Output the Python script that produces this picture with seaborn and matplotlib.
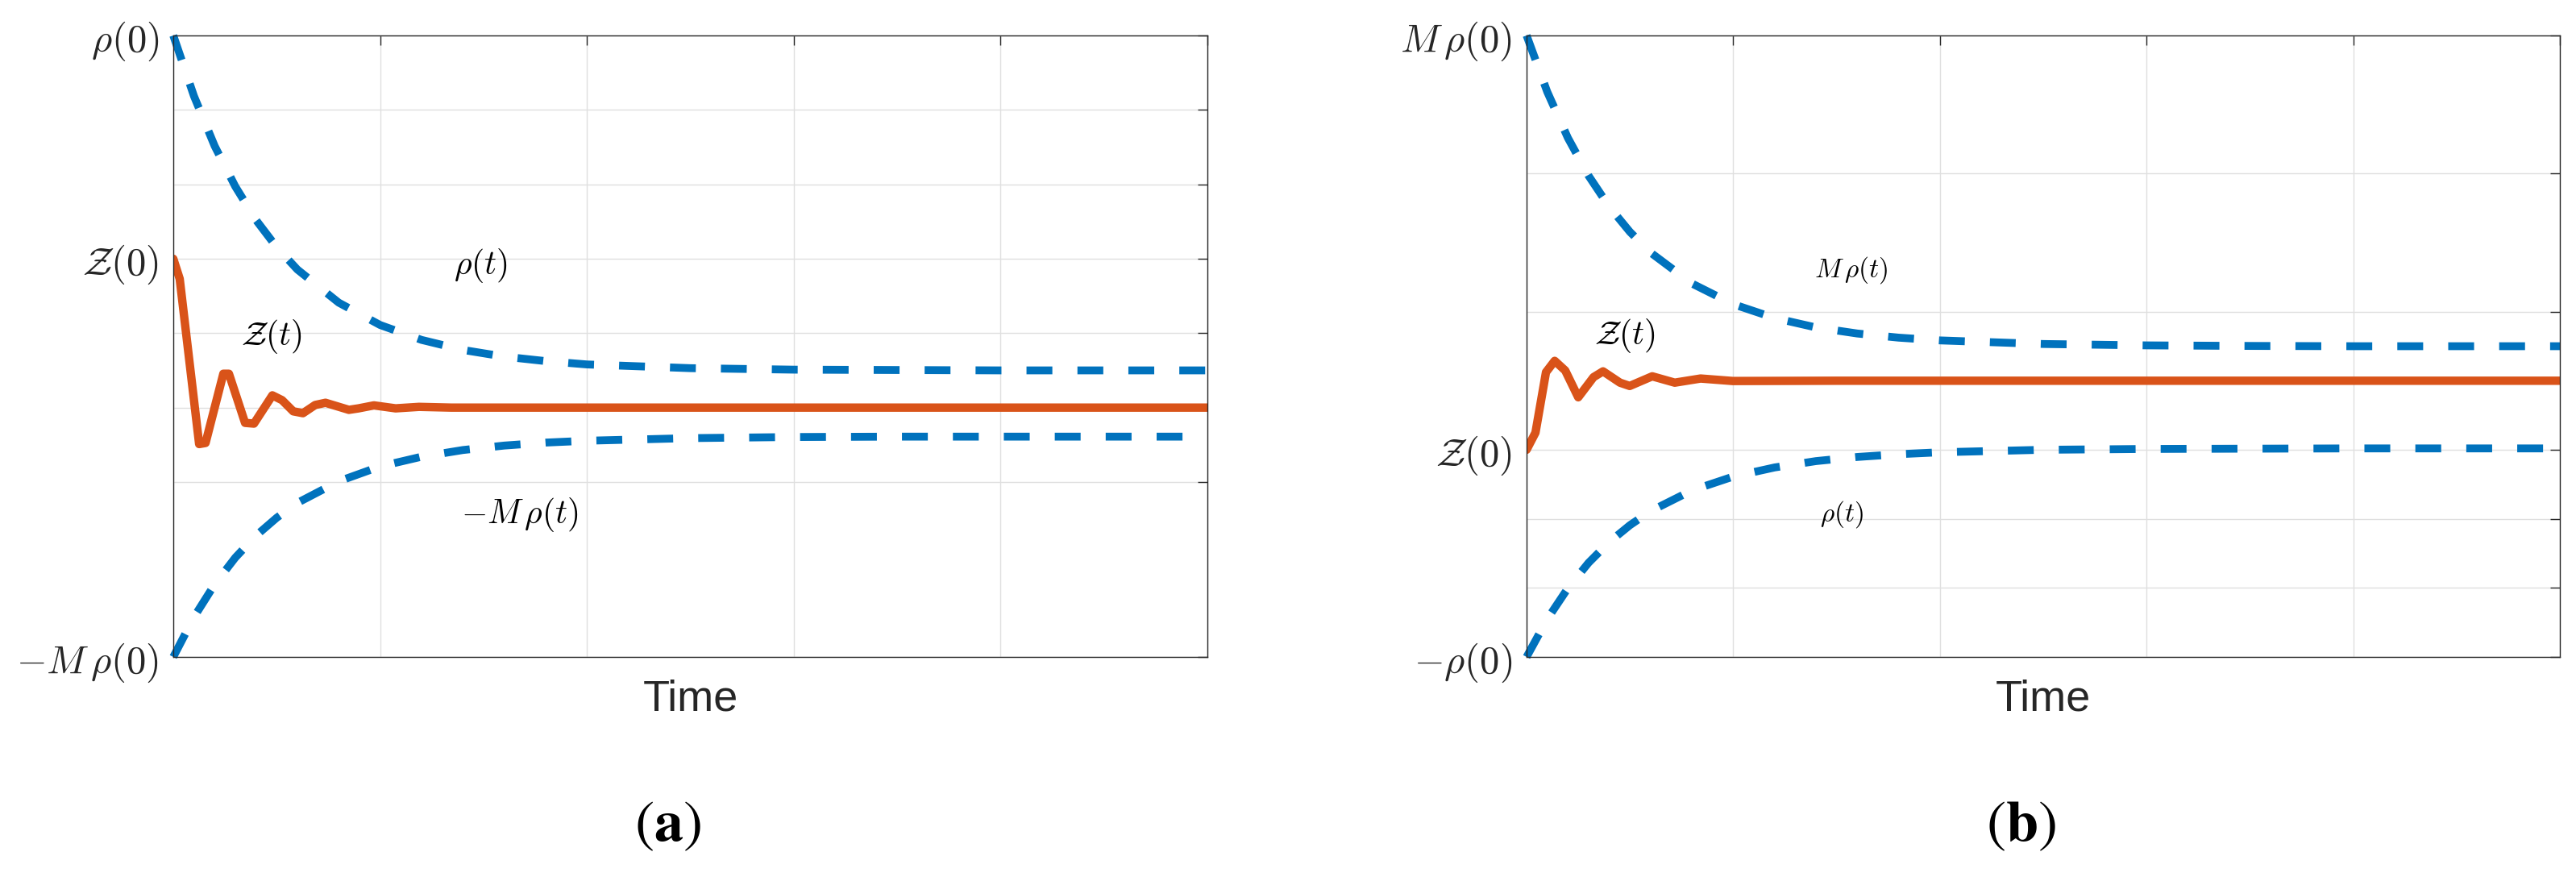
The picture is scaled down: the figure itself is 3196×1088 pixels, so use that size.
import numpy as np
import pandas as pd
import matplotlib
matplotlib.use("Agg")
import matplotlib.pyplot as plt
import seaborn as sns

# ---------------- data ----------------
# common time grid for the bound curves
t_bound = [0.0, 0.1, 0.2, 0.3, 0.4, 0.5, 0.6, 0.8, 1.0, 1.2, 1.4, 1.6, 1.8,
           2.0, 2.5, 3.0, 3.5, 4.0, 4.5, 5.0]

# panel (a)
a_upper = [1.000, 0.837, 0.703, 0.594, 0.504, 0.431, 0.371, 0.282, 0.222, 0.182,
           0.155, 0.137, 0.125, 0.116, 0.106, 0.102, 0.101, 0.100, 0.100, 0.100]
a_lower = [-0.670, -0.563, -0.475, -0.403, -0.344, -0.296, -0.256, -0.198, -0.158,
           -0.132, -0.114, -0.102, -0.094, -0.089, -0.082, -0.079, -0.078, -0.078,
           -0.078, -0.078]
a_z_t = [0.0, 0.031, 0.125, 0.156, 0.242, 0.269, 0.347, 0.390, 0.479, 0.526, 0.580,
         0.627, 0.686, 0.736, 0.849, 0.896, 0.970, 1.075, 1.188, 1.344, 5.0]
a_z = [0.400, 0.346, -0.098, -0.095, 0.091, 0.091, -0.041, -0.043, 0.033, 0.020,
       -0.010, -0.015, 0.007, 0.013, -0.006, -0.002, 0.006, -0.002, 0.002, 0.0, 0.0]

# panel (b)
b_upper = [1.250, 1.046, 0.879, 0.742, 0.630, 0.539, 0.464, 0.352, 0.277, 0.227,
           0.193, 0.171, 0.156, 0.146, 0.133, 0.128, 0.126, 0.125, 0.125, 0.125]
b_lower = [-1.000, -0.863, -0.751, -0.659, -0.584, -0.523, -0.472, -0.397, -0.347,
           -0.314, -0.291, -0.276, -0.266, -0.259, -0.250, -0.247, -0.246, -0.245,
           -0.245, -0.245]
b_z_t = [0.0, 0.043, 0.094, 0.136, 0.187, 0.250, 0.324, 0.370, 0.452, 0.499, 0.608,
         0.717, 0.842, 0.998, 1.5, 5.0]
b_z = [-0.250, -0.188, 0.031, 0.072, 0.037, -0.060, 0.013, 0.034, -0.007, -0.019,
       0.016, -0.007, 0.008, -0.001, 0.0, 0.0]

# axis tick values and labels
x_ticks = [0, 1, 2, 3, 4, 5]
a_yticks = [-0.67, -0.2, 0.0, 0.2, 0.4, 0.6, 0.8, 1.0]
a_ylabels = [r"$-M\,\rho(0)$", "", "", "", r"$\mathcal{Z}(0)$", "", "", r"$\rho(0)$"]
b_yticks = [-1.0, -0.75, -0.5, -0.25, 0.25, 0.75, 1.25]
b_ylabels = [r"$-\rho(0)$", "", "", r"$\mathcal{Z}(0)$", "", "", r"$M\,\rho(0)$"]

# ---------------- style ----------------
sns.set_theme(style="white")
plt.rcParams["mathtext.fontset"] = "cm"
plt.rcParams["font.family"] = ["Liberation Sans", "DejaVu Sans"]

BLUE = "#0072BD"
ORANGE = "#D95319"
DARK = "#262626"

W, H = 3196, 1088
fig = plt.figure(figsize=(W / 100, H / 100), dpi=100)
fig.patch.set_facecolor("white")

axA = fig.add_axes([215 / W, 273 / H, 1283 / W, 771 / H])
axB = fig.add_axes([1894 / W, 273 / H, 1282 / W, 771 / H])


def draw(ax, upper, lower, zt, z):
    bounds = pd.DataFrame({"t": t_bound, "upper": upper, "lower": lower})
    zdf = pd.DataFrame({"t": zt, "z": z})
    dash = dict(color=BLUE, linewidth=7.0, linestyle=(0, (3.3, 3.2)),
                dash_capstyle="butt", estimator=None, sort=False, clip_on=False)
    sns.lineplot(data=bounds, x="t", y="upper", ax=ax, **dash)
    sns.lineplot(data=bounds, x="t", y="lower", ax=ax, **dash)
    sns.lineplot(data=zdf, x="t", y="z", ax=ax, color=ORANGE, linewidth=7.5,
                 estimator=None, sort=False, clip_on=True)


def style(ax, ylim, yticks, ylabels):
    ax.set_xlim(0, 5)
    ax.set_ylim(*ylim)
    ax.set_xticks(x_ticks)
    ax.set_xticklabels([""] * len(x_ticks))
    ax.set_yticks(yticks)
    ax.set_yticklabels(ylabels)
    ax.grid(True, color="#dfdfdf", linewidth=1.0)
    ax.set_axisbelow(True)
    ax.tick_params(direction="in", length=8.6, width=1.0, top=True, right=True,
                   colors=DARK, labelsize=35, pad=13)
    for sp in ax.spines.values():
        sp.set_visible(True)
        sp.set_color(DARK)
        sp.set_linewidth(1.0)
    ax.set_ylabel("")
    ax.set_xlabel("Time", fontsize=39, color=DARK)
    ax.xaxis.set_label_coords(0.5, -(868 - 815) / 771)
    ax.xaxis.label.set_va("center")


draw(axA, a_upper, a_lower, a_z_t, a_z)
style(axA, (-0.67, 1.0), a_yticks, a_ylabels)
draw(axB, b_upper, b_lower, b_z_t, b_z)
style(axB, (-1.0, 1.25), b_yticks, b_ylabels)

# curve annotations
axA.text(1.488, 0.381, r"$\rho(t)$", fontsize=30, ha="center", va="center", color="black")
axA.text(0.475, 0.192, r"$\mathcal{Z}(t)$", fontsize=30, ha="center", va="center", color="black")
axA.text(1.675, -0.287, r"$-M\,\rho(t)$", fontsize=30, ha="center", va="center", color="black")

axB.text(1.571, 0.402, r"$M\,\rho(t)$", fontsize=24, ha="center", va="center", color="black")
axB.text(0.476, 0.162, r"$\mathcal{Z}(t)$", fontsize=30, ha="center", va="center", color="black")
axB.text(1.524, -0.483, r"$\rho(t)$", fontsize=24, ha="center", va="center", color="black")

# panel tags
fig.text(828 / W, 1 - 1025 / H, r"$(\mathbf{a})$", math_fontfamily="stix",
         fontsize=52, ha="center", va="center", color="black")
fig.text(2507 / W, 1 - 1025 / H, r"$(\mathbf{b})$", math_fontfamily="stix",
         fontsize=52, ha="center", va="center", color="black")

fig.savefig("out.png", dpi=100, facecolor="white")
